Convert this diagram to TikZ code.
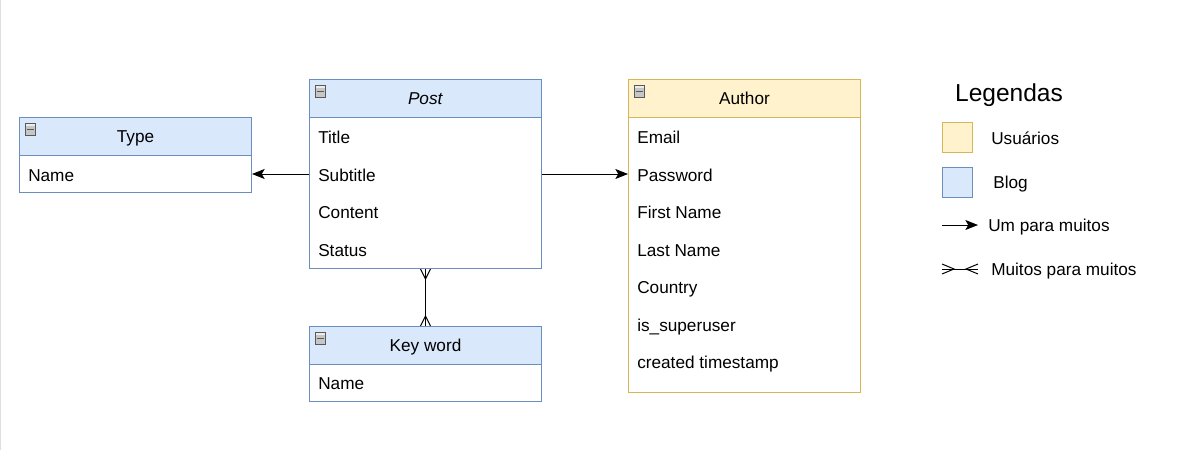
\documentclass[tikz,border=0pt]{standalone}
\usepackage{fontspec}
\setmainfont{Liberation Sans}
\usetikzlibrary{calc,arrows.meta}
\definecolor{blueline}{HTML}{6C8EBF}
\definecolor{bluefill}{HTML}{DAE8FC}
\definecolor{yellowline}{HTML}{D6B656}
\definecolor{yellowfill}{HTML}{FFF2CC}

\begin{document}
\begin{tikzpicture}[
      x=0.75pt, y=-0.75pt,
      every node/.style={font=\fontsize{12.9}{15}\selectfont,text height=9.2pt,text depth=0pt},
      head/.style={draw=#1line,fill=#1fill,line width=0.75pt,anchor=north west,inner sep=0pt,minimum width=174pt,minimum height=28.5pt},
      body/.style={draw=#1line,fill=white,line width=0.75pt,anchor=north west,inner sep=0pt,minimum width=174pt},
      field/.style={anchor=west,inner sep=0pt},
      minus/.style={draw=gray!70!black,fill=gray!45,line width=0.5pt,anchor=north west,inner sep=0pt,minimum size=7.5pt,
        path picture={\fill[gray!15] (path picture bounding box.north west) rectangle ([yshift=-2.2pt]path picture bounding box.north east);
          \draw[line width=1pt] ([xshift=1pt]path picture bounding box.west) -- ([xshift=-1pt]path picture bounding box.east);}},
      swatch/.style={draw=#1line,fill=#1fill,line width=0.75pt,inner sep=0pt,minimum size=22.5pt},
      rel/.style={line width=0.75pt,->,>={Stealth[length=9.5pt,width=7.5pt,inset=2.2pt]}},
      foot/.style={line width=0.75pt}
    ]
    \useasboundingbox (0,0) rectangle (1187,450);
    \fill[white] (0,0) rectangle (1187,450);
    \draw[gray!25,line width=0.75pt] (0.5,0) -- (0.5,450);
    % Draw the Type table.
    \node[body=blue,minimum height=27.75pt] (type) at (19,155) {};
    \node[head=blue] (typehead) at (19,117) {Type};
    \node[field] (type1) at (28,175) {Name};
    % Draw the Post table.
    \node[body=blue,minimum height=113.25pt] (post) at (309,117) {};
    \node[head=blue] (posthead) at (309,79) {\textit{Post}};
    \foreach \name [count=\i] in {Title,Subtitle,Content,Status}
      \node[field] (post\i) at (318,100+37.5*\i) {\name};
    % Draw the Key word table.
    \node[body=blue,minimum height=27.75pt] (keyword) at (309,364) {};
    \node[head=blue] (keywordhead) at (309,326) {Key word};
    \node[field] (keyword1) at (318,383.5) {Name};
    % Draw the Author table.
    \node[body=yellow,minimum height=206.25pt] (author) at (628,117) {};
    \node[head=yellow] (authorhead) at (628,79) {Author};
    \foreach \name [count=\i] in {Email,Password,First Name,Last Name,Country,is\_superuser,created timestamp}
      \node[field] (author\i) at (637,100+37.5*\i) {\name};
    % Draw the collapse icons.
    \foreach \tab in {type,post,keyword,author}
      \node[minus] (\tab min) at ($(\tab head.north west)+(6,6)$) {};
    % Draw the relations.
    \draw[rel] (post.west |- type.east) -- (type.east);
    \draw[rel] (post.east |- type.east) -- (author.west |- type.east);
    \draw[foot] (post.south) -- (keywordhead.north);
    \draw[foot] ($(post.south)+(-5,0)$) -- ($(post.south)+(0,10)$) -- ($(post.south)+(5,0)$);
    \draw[foot] ($(keywordhead.north)+(-5,0)$) -- ($(keywordhead.north)+(0,-10)$) -- ($(keywordhead.north)+(5,0)$);
    % Draw the legend.
    \node[font=\fontsize{18.4}{21}\selectfont,text height=13.2pt] (legend) at (1009,93) {Legendas};
    \node[swatch=yellow] (users) at (957,137.5) {};
    \node[field] (userslabel) at (991,138) {Usuários};
    \node[swatch=blue] (blog) at (957,182.5) {};
    \node[field] (bloglabel) at (993,182.5) {Blog};
    \coordinate (oneA) at (942,225);
    \coordinate (oneB) at (978,225);
    \draw[rel] (oneA) -- (oneB);
    \node[field] (onelabel) at (988,225.5) {Um para muitos};
    \coordinate (manyA) at (942,269);
    \coordinate (manyB) at (978,269);
    \draw[foot] (manyA) -- (manyB);
    \draw[foot] ($(manyA)+(0,-5)$) -- ($(manyA)+(12,0)$) -- ($(manyA)+(0,5)$);
    \draw[foot] ($(manyB)+(0,-5)$) -- ($(manyB)+(-12,0)$) -- ($(manyB)+(0,5)$);
    \node[field] (manylabel) at (991,269.5) {Muitos para muitos};
\end{tikzpicture}
\end{document}
